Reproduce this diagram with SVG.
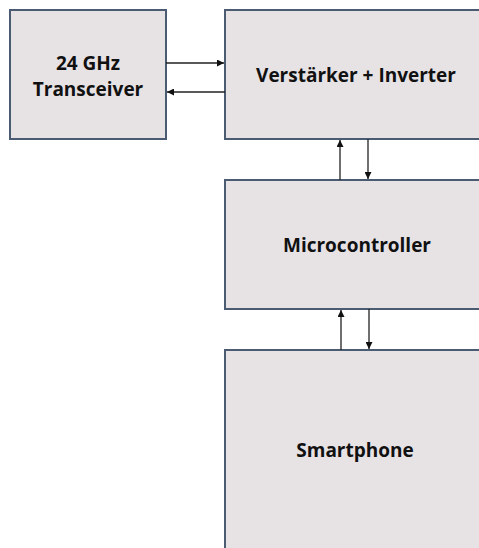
<svg xmlns="http://www.w3.org/2000/svg" width="479" height="548" viewBox="0 0 479 548">
<style>
.box{fill:#e7e3e5;stroke:#4b5b72;stroke-width:2}
.lbl{font-family:"Open Sans","Liberation Sans",sans-serif;font-weight:bold;font-size:19px;fill:#111;text-anchor:middle}
.con{stroke:#222;stroke-width:1.3;fill:none;marker-end:url(#ah)}
</style>
<defs>
<marker id="ah" viewBox="0 0 10 10" refX="10" refY="5" markerWidth="7" markerHeight="7" markerUnits="userSpaceOnUse" orient="auto">
<path d="M0,0 L10,5 L0,10 z" fill="#111"/>
</marker>
</defs>
<rect width="479" height="548" fill="#fff"/>
<g id="transceiver">
<rect class="box" x="10" y="10" width="156" height="129"/>
<text class="lbl" x="88" y="70">24 GHz</text>
<text class="lbl" x="88" y="96">Transceiver</text>
</g>
<g id="verstaerker">
<rect class="box" x="225" y="10" width="270" height="129"/>
<text class="lbl" x="356" y="82">Verstärker + Inverter</text>
</g>
<g id="microcontroller">
<rect class="box" x="225" y="180" width="270" height="129"/>
<text class="lbl" x="357" y="252">Microcontroller</text>
</g>
<g id="smartphone">
<rect class="box" x="225" y="350" width="270" height="220"/>
<text class="lbl" x="355" y="457">Smartphone</text>
</g>
<g id="connectors">
<line class="con" x1="166" y1="63" x2="224" y2="63"/>
<line class="con" x1="225" y1="92" x2="167" y2="92"/>
<line class="con" x1="340" y1="180" x2="340" y2="140"/>
<line class="con" x1="368" y1="139" x2="368" y2="179"/>
<line class="con" x1="341" y1="350" x2="341" y2="310"/>
<line class="con" x1="369" y1="309" x2="369" y2="349"/>
</g>
</svg>
